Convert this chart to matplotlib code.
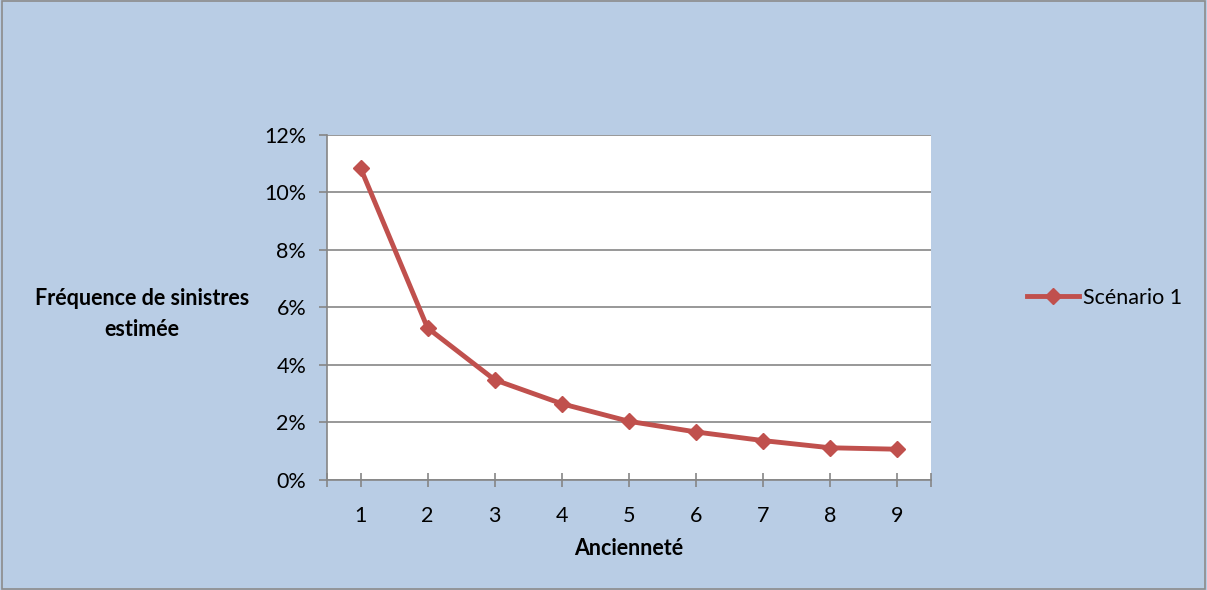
import matplotlib
matplotlib.use("Agg")
import matplotlib.pyplot as plt
from matplotlib.ticker import FuncFormatter
from matplotlib.patches import Rectangle
from matplotlib.lines import Line2D

# Data
categories = [1, 2, 3, 4, 5, 6, 7, 8, 9]
scenario_1 = [0.1084, 0.0528, 0.0348, 0.0265, 0.0204, 0.0167, 0.0137, 0.0112, 0.0107]
series_name = "Scénario 1"
x_label = "Ancienneté"
y_label = "Fréquence de sinistres\nestimée"

BG = "#B9CDE5"
RED = "#C0504D"
GRID = "#868686"
FONT = ["Lato", "DejaVu Sans"]
FS = 15.5

plt.rcParams['font.family'] = FONT

fig = plt.figure(figsize=(12.07, 5.90), dpi=100)
fig.patch.set_facecolor(BG)
fig.patches.append(Rectangle((0.002, 0.002), 0.996, 0.996, transform=fig.transFigure,
                             fill=False, edgecolor="#8C8C8C", linewidth=1.2))

ax = fig.add_axes([0.2709, 0.1864, 0.5002, 0.5856])
ax.set_facecolor("white")

ax.plot(categories, scenario_1, color=RED, linewidth=3.5, marker="D",
        markersize=8.5, markerfacecolor=RED, markeredgecolor=RED, solid_joinstyle="round")

ax.set_xlim(0.5, 9.5)
ax.set_ylim(0, 0.12)
ax.set_yticks([0, 0.02, 0.04, 0.06, 0.08, 0.10, 0.12])
ax.yaxis.set_major_formatter(FuncFormatter(lambda v, p: f"{v*100:.0f}%"))
ax.set_xticks(categories)
ax.set_xticks([0.5, 9.5], minor=True)

ax.grid(axis="y", color=GRID, linewidth=1.2)
ax.set_axisbelow(True)

for s in ["top", "right"]:
    ax.spines[s].set_visible(False)
for s in ["left", "bottom"]:
    ax.spines[s].set_color(GRID)
    ax.spines[s].set_linewidth(1.2)

ax.tick_params(axis="y", direction="out", length=6, width=1.2, color=GRID,
               labelsize=FS, pad=9, labelcolor="black")
ax.tick_params(axis="x", which="both", direction="inout", length=10, width=1.2, color=GRID,
               labelsize=FS, pad=14, labelcolor="black")

ax.set_xlabel(x_label, fontsize=FS, fontweight="bold", labelpad=8)
fig.text(0.1177, 0.468, y_label, fontsize=FS, fontweight="bold",
         ha="center", va="center", multialignment="center", linespacing=1.55)

handle = Line2D([], [], color=RED, linewidth=3.5, marker="D", markersize=8.5)
fig.legend([handle], [series_name], loc="center left", bbox_to_anchor=(0.851, 0.495),
           frameon=False, fontsize=FS, handlelength=2.4, handletextpad=0.2, borderpad=0,
           borderaxespad=0)

fig.savefig("out.png", dpi=100, facecolor=BG)
